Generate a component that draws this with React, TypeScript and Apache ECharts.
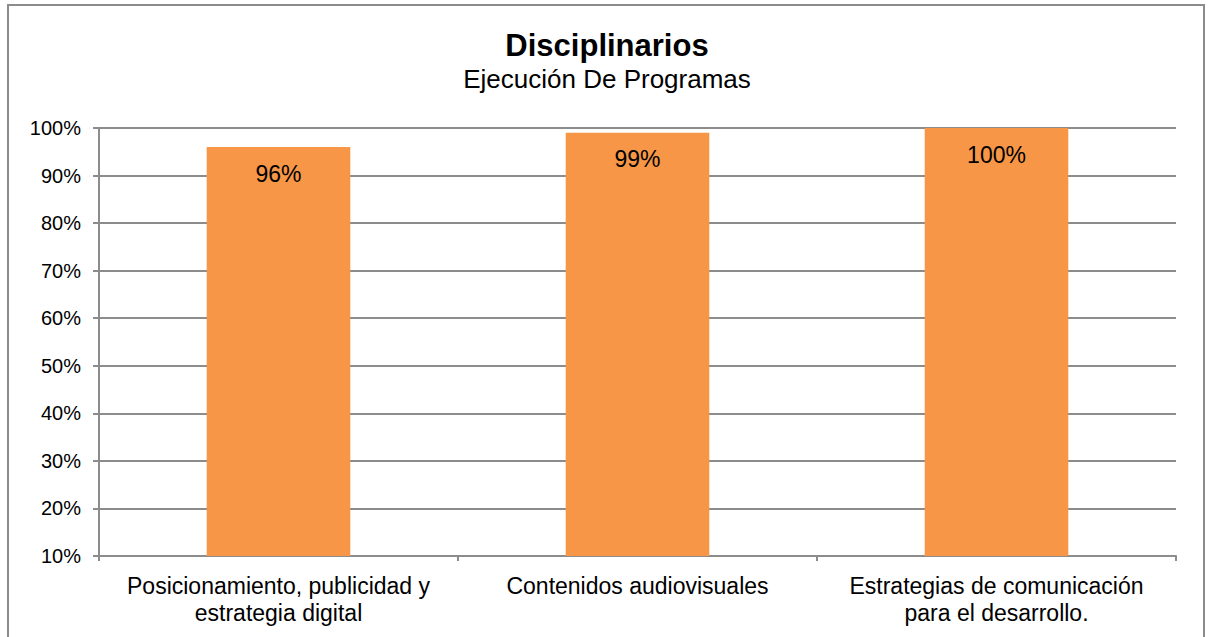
import React, { useEffect, useRef } from "react";
import * as echarts from "echarts";

const categories = [
  "Posicionamiento, publicidad y\nestrategia digital",
  "Contenidos audiovisuales",
  "Estrategias de comunicación\npara el desarrollo.",
];
const values = [96, 99, 100];
const titleText = "Disciplinarios";
const subtitleText = "Ejecución De Programas";

export default function App() {
  const ref = useRef<HTMLDivElement>(null);
  useEffect(() => {
    if (!ref.current) return;
    const chart = echarts.init(ref.current, null, { renderer: "svg" });
    const font = "'Liberation Sans', Arial, sans-serif";
    chart.setOption({
      animation: false,
      backgroundColor: "#ffffff",
      textStyle: { fontFamily: font },
      graphic: [
        {
          type: "rect",
          shape: { x: 8, y: 5, width: 1196, height: 700 },
          style: { fill: "none", stroke: "#8c8c8c", lineWidth: 2 },
          silent: true,
        },
        {
          type: "text",
          x: 607,
          y: 45,
          style: {
            text: titleText,
            font: `bold 31px ${font}`,
            fill: "#000",
            align: "center",
            verticalAlign: "middle",
          },
        },
        {
          type: "text",
          x: 607,
          y: 79,
          style: {
            text: subtitleText,
            font: `26px ${font}`,
            fill: "#000",
            align: "center",
            verticalAlign: "middle",
          },
        },
      ],
      grid: { left: 99, right: 32, top: 128, bottom: 81, containLabel: false },
      xAxis: {
        type: "category",
        data: categories,
        axisLine: { show: true, lineStyle: { color: "#8c8c8c", width: 2 } },
        axisTick: {
          show: true,
          alignWithLabel: false,
          length: 5,
          lineStyle: { color: "#8c8c8c", width: 2 },
        },
        axisLabel: {
          color: "#000",
          fontSize: 23,
          lineHeight: 27,
          margin: 16,
          fontFamily: font,
          interval: 0,
        },
      },
      yAxis: {
        type: "value",
        min: 10,
        max: 100,
        interval: 10,
        axisLine: { show: true, lineStyle: { color: "#8c8c8c", width: 2 } },
        axisTick: { show: true, length: 6, lineStyle: { color: "#8c8c8c", width: 2 } },
        splitLine: { show: true, lineStyle: { color: "#8c8c8c", width: 2 } },
        axisLabel: {
          color: "#000",
          fontSize: 20,
          margin: 18,
          fontFamily: font,
          formatter: (v: number) => `${v}%`,
        },
      },
      series: [
        {
          type: "bar",
          data: values,
          barWidth: "40%",
          itemStyle: { color: "#F79646" },
          label: {
            show: true,
            position: "insideTop",
            distance: 15,
            color: "#000",
            fontSize: 23,
            fontFamily: font,
            formatter: (p: any) => `${p.value}%`,
          },
        },
      ],
    });
    return () => chart.dispose();
  }, []);
  return (
    <div
      ref={ref}
      style={{ position: "fixed", left: 0, top: 0, width: 1208, height: 637 }}
    />
  );
}
